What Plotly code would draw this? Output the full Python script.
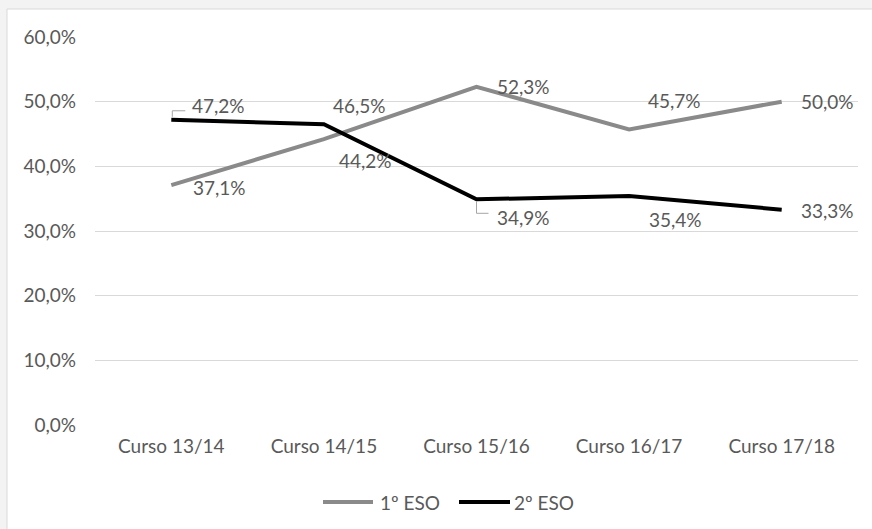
import plotly.graph_objects as go

categories = ["Curso 13/14", "Curso 14/15", "Curso 15/16", "Curso 16/17", "Curso 17/18"]
eso1 = [37.1, 44.2, 52.3, 45.7, 50.0]
eso2 = [47.2, 46.5, 34.9, 35.4, 33.3]
series_names = ["1º ESO", "2º ESO"]
y_ticks = [0, 10, 20, 30, 40, 50, 60]

# label pixel offsets (dx, dy up-positive)
off1 = [(48, -2), (42, -21), (47, 0), (45, 29), (46, 0)]
off2 = [(47, 14), (36, 19), (47, -18), (46, -23), (46, -1)]

FONT = "Lato"
FS = 19
TXT = "#595959"
GRAY = "#8a8a8a"
BLACK = "#000000"

def fmt(v):
    return f"{v:.1f}".replace(".", ",") + "%"

fig = go.Figure()
fig.add_trace(go.Scatter(x=categories, y=eso1, mode="lines", name=series_names[0],
                         line=dict(color=GRAY, width=4), showlegend=False))
fig.add_trace(go.Scatter(x=categories, y=eso2, mode="lines", name=series_names[1],
                         line=dict(color=BLACK, width=4), showlegend=False))

ann = []
for vals, offs in ((eso1, off1), (eso2, off2)):
    for c, v, (dx, dy) in zip(categories, vals, offs):
        ann.append(dict(x=c, y=v, text=fmt(v), showarrow=False, xshift=dx, yshift=dy,
                        font=dict(family=FONT, size=FS, color=TXT)))

PL, PR, PT, PB = 95, 858, 37, 425
W, H = 872, 529
def px(x):
    return (x - PL) / (PR - PL)
def py(y):
    return (PB - y) / (PB - PT)

shapes = [
    dict(type="rect", xref="paper", yref="paper", x0=px(7), x1=px(W + 10), y0=py(H + 10), y1=py(9),
         fillcolor="white", line=dict(color="#d9d9d9", width=1), layer="below"),
    # leader lines
    dict(type="path", xref="x", yref="y", xsizemode="pixel", ysizemode="pixel",
         xanchor=categories[0], yanchor=eso2[0], path="M1,3 L1,9 L14,9",
         line=dict(color="#a6a6a6", width=1)),
    dict(type="path", xref="x", yref="y", xsizemode="pixel", ysizemode="pixel",
         xanchor=categories[2], yanchor=eso2[2], path="M0,-2 L0,-14 L12,-14",
         line=dict(color="#a6a6a6", width=1)),
]

# custom legend (longer line samples as in the reference)
leg_y = py(502)
leg_items = [(series_names[0], GRAY, 323, 373, 378), (series_names[1], BLACK, 459, 510, 512)]
for name, col, x0, x1, xt in leg_items:
    shapes.append(dict(type="line", xref="paper", yref="paper", x0=px(x0), x1=px(x1),
                       y0=leg_y, y1=leg_y, line=dict(color=col, width=4)))
    ann.append(dict(xref="paper", yref="paper", x=px(xt), y=leg_y, xanchor="left",
                    yanchor="middle", text=name, showarrow=False,
                    font=dict(family=FONT, size=FS, color=TXT)))

fig.update_layout(
    width=W, height=H,
    margin=dict(l=PL, r=W - PR, t=PT, b=H - PB),
    paper_bgcolor="#f3f3f3", plot_bgcolor="rgba(0,0,0,0)",
    font=dict(family=FONT, size=FS, color=TXT),
    showlegend=False,
    xaxis=dict(type="category", range=[-0.5, 4.5], showgrid=False, zeroline=False,
               showline=False, ticks="", ticklabelstandoff=8,
               tickfont=dict(family=FONT, size=FS, color=TXT)),
    yaxis=dict(range=[0, 60], tickvals=y_ticks, ticktext=[fmt(v) for v in y_ticks],
               showgrid=True, gridcolor="#d9d9d9", gridwidth=1, zeroline=False,
               showline=False, ticks="", ticklabelstandoff=18,
               tickfont=dict(family=FONT, size=FS, color=TXT)),
    annotations=ann, shapes=shapes,
)

fig.write_html("out.html", config={"displayModeBar": False},
               post_script="document.body.style.margin='0';")
